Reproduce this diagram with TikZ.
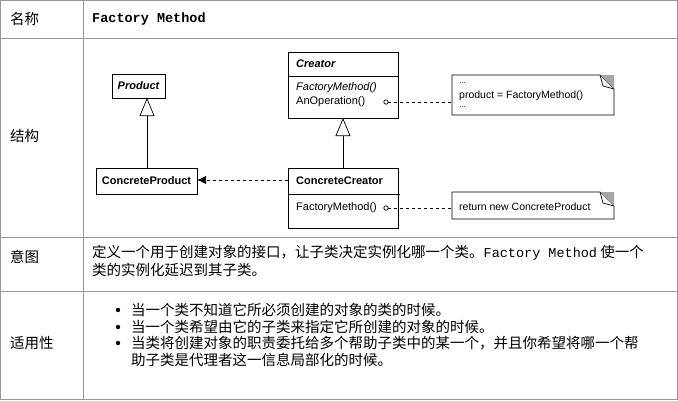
\documentclass[tikz,border=0pt]{standalone}
\usepackage{fontspec}
\setmainfont{Liberation Sans}
\newfontfamily\cjk{Noto Sans CJK SC}
\newfontfamily\mono{Liberation Mono}
\usetikzlibrary{arrows.meta}
\begin{document}
\begin{tikzpicture}[x=1pt,y=-1pt,
  grid/.style={draw=gray!80,line width=1pt},
  cls/.style={draw,line width=0.7pt,fill=white},
  lbl/.style={font=\cjk\fontsize{14.5}{16}\selectfont,anchor=west,inner sep=0},
  uml/.style={font=\fontsize{11}{13}\selectfont,anchor=west,inner sep=0},
  dsh/.style={dashed,line width=0.7pt},
  inh/.style={-{Triangle[open,length=18pt,width=15pt]},line width=0.7pt}]
\useasboundingbox (0,0) rectangle (678,400);
\fill[white] (0,0) rectangle (678,400);
% table
\draw[grid] (0.5,0.5) rectangle (677.5,399.5);
\draw[grid] (83,0) -- (83,400);
\draw[grid] (0,38) -- (678,38);
\draw[grid] (0,237) -- (678,237);
\draw[grid] (0,291) -- (678,291);
\node[lbl] (t1) at (10,19) {名称};
\node[lbl] (t2) at (10,136) {结构};
\node[lbl] (t3) at (10,257) {意图};
\node[lbl] (t4) at (10,343) {适用性};
\node[anchor=west,inner sep=0,font=\mono\bfseries\fontsize{13.5}{15}\selectfont] (fm) at (92,19) {Factory Method};
\node[lbl] (i1) at (92,253) {定义一个用于创建对象的接口，让子类决定实例化哪一个类。{\mono\fontsize{13.5}{15}\selectfont Factory Method} 使一个};
\node[lbl] (i2) at (92,270) {类的实例化延迟到其子类。};
\foreach \y/\t [count=\k] in {310/当一个类不知道它所必须创建的对象的类的时候。,327/当一个类希望由它的子类来指定它所创建的对象的时候。,343/当类将创建对象的职责委托给多个帮助子类中的某一个，并且你希望将哪一个帮,360/助子类是代理者这一信息局部化的时候。}{
  \node[lbl] (b\k) at (131,\y) {\t};}
\foreach \y/\k in {310/1,327/2,343/3}{\fill (118,\y) circle (2.2pt);}
% UML
\draw[cls] (112,74) rectangle (165,98);
\node[font=\bfseries\itshape\fontsize{11}{13}\selectfont] (prod) at (138.5,86) {Product};
\draw[cls] (96,168) rectangle (197,194);
\node[font=\bfseries\fontsize{11}{13}\selectfont] (cprod) at (146.5,181) {ConcreteProduct};
\draw[cls] (288,52) rectangle (398,118);
\draw[line width=0.7pt] (288,76) -- (398,76);
\node[uml,font=\bfseries\itshape\fontsize{11}{13}\selectfont] (creator) at (296,64) {Creator};
\node[uml,font=\itshape\fontsize{11}{13}\selectfont] (cfm) at (296,88) {FactoryMethod()};
\node[uml] (aop) at (296,102) {AnOperation()};
\draw[cls] (288,168) rectangle (398,228);
\draw[line width=0.7pt] (288,194) -- (400,194);
\node[uml,font=\bfseries\fontsize{11}{13}\selectfont] (cc) at (296,181) {ConcreteCreator};
\node[uml] (ccfm) at (296,208) {FactoryMethod()};
% notes
\foreach \a/\b/\n in {75/115/n1,192/219/n2}{
  \draw[line width=0.7pt] (452,\a) -- (600,\a) -- (614,\a+14) -- (614,\b) -- (452,\b) -- cycle;
  \fill[gray!70] (600,\a) -- (614,\a) -- (614,\a+14) -- cycle;
  \draw[line width=0.7pt] (600,\a) -- (603,\a+11) -- (614,\a+14);}
\node[uml,font=\fontsize{8}{9}\selectfont] (d1) at (459,83) {...};
\node[uml,font=\fontsize{10.5}{12}\selectfont] (pf) at (459,96) {product = FactoryMethod()};
\node[uml,font=\fontsize{8}{9}\selectfont] (d2) at (459,107) {...};
\node[uml,font=\fontsize{10.5}{12}\selectfont] (rn) at (459,207) {return new ConcreteProduct};
% connectors
\coordinate (o1) at (386,102); \coordinate (o2) at (386,208);
\draw[line width=0.7pt] (o1) circle (2.2pt); \draw[line width=0.7pt] (o2) circle (2.2pt);
\draw[dsh] (388,102) -- (452,102);
\draw[dsh] (388,208) -- (452,208);
\draw[inh] (147,168) -- (147,98);
\draw[inh] (343,168) -- (343,118);
\draw[dsh,-{Latex[length=9pt,width=8pt]}] (288,180) -- (197,180);
\end{tikzpicture}
\end{document}
